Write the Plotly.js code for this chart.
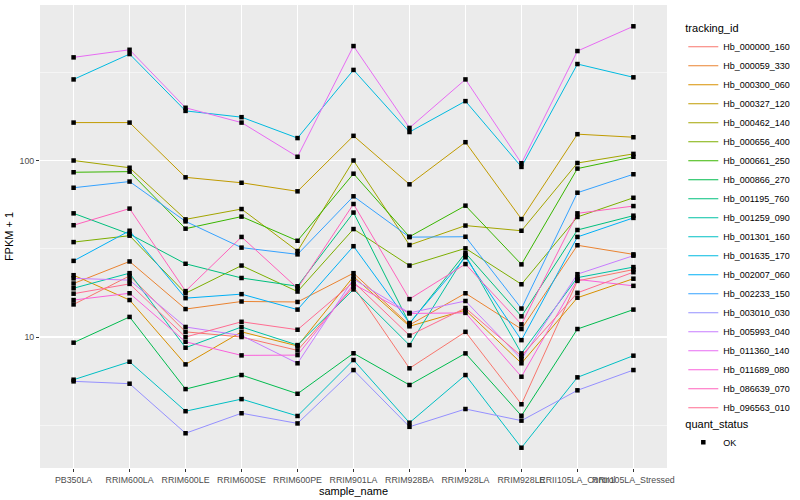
<!DOCTYPE html>
<html>
<head>
<meta charset="utf-8">
<script src="https://cdn.plot.ly/plotly-3.0.1.min.js"></script>
<style>html,body{margin:0;padding:0;background:#fff;} #chart{width:800px;height:500px;}</style>
</head>
<body>
<div id="chart"></div>
<script>
// categories
const sampleNames = ["PB350LA","RRIM600LA","RRIM600LE","RRIM600SE","RRIM600PE","RRIM901LA","RRIM928BA","RRIM928LA","RRIM928LE","RRII105LA_Control","RRII105LA_Stressed"];

// series values (FPKM + 1), one array per tracking_id
const Hb_000000_160 = [15.3, 22.2, 10.7, 10.0, 8.4, 19.3, 6.65, 10.7, 4.16, 20.8, 24.1];
const Hb_000059_330 = [20.1, 26.8, 14.4, 15.9, 15.8, 23.0, 11.7, 17.7, 11.1, 33.1, 29.4];
const Hb_000300_060 = [22.4, 16.2, 7.0, 10.7, 8.9, 22.0, 11.5, 14.2, 7.1, 16.7, 21.4];
const Hb_000327_120 = [164, 164, 80.3, 74.8, 66.9, 138, 73.3, 127, 46.6, 141, 135.5];
const Hb_000462_140 = [100, 91, 46.4, 53.1, 30.7, 100, 33.2, 42.8, 40.0, 96.8, 109];
const Hb_000656_400 = [34.5, 37.5, 17.7, 25.4, 18.1, 40.9, 25.4, 31.8, 19.9, 47.9, 61.5];
const Hb_000661_250 = [85.8, 86.5, 41.1, 48.1, 35.1, 84.2, 37.0, 55.5, 25.8, 90, 105];
const Hb_000866_270 = [9.29, 13.0, 5.07, 6.09, 4.77, 8.09, 5.35, 8.08, 3.58, 11.1, 14.3];
const Hb_001195_760 = [50.2, 38.3, 26.0, 21.6, 19.4, 50.7, 11.9, 29.9, 13.1, 40.4, 48.7];
const Hb_001259_090 = [18.9, 23.0, 8.7, 11.4, 9.0, 18.6, 9.0, 29.1, 8.08, 21.7, 24.9];
const Hb_001301_160 = [5.73, 7.24, 3.8, 4.45, 3.57, 7.41, 3.27, 6.09, 2.36, 5.91, 7.84];
const Hb_001635_170 = [288, 401, 191, 176, 134, 326, 145, 217, 92, 352, 296];
const Hb_002007_060 = [27.0, 40.0, 16.6, 17.5, 14.3, 32.7, 12.0, 28.3, 9.6, 36.9, 47.3];
const Hb_002233_150 = [70.1, 76.0, 45.2, 32.1, 29.4, 62.7, 36.8, 37.0, 14.5, 65.7, 83.6];
const Hb_003010_030 = [5.61, 5.44, 2.85, 3.7, 3.24, 6.5, 3.1, 3.91, 3.36, 4.99, 6.5];
const Hb_005993_040 = [21.5, 21.0, 11.4, 10.2, 7.1, 21.3, 13.7, 16.0, 7.5, 22.7, 28.9];
const Hb_011360_140 = [384, 424, 199, 164, 105, 445, 153, 288, 96.5, 417, 576];
const Hb_011689_080 = [16.2, 17.7, 9.4, 7.87, 7.9, 19.9, 13.6, 13.7, 5.96, 21.2, 19.5];
const Hb_086639_070 = [43.0, 53.4, 18.2, 36.9, 18.9, 56.7, 16.4, 25.9, 11.8, 50.2, 55.2];
const Hb_096563_010 = [17.6, 20.0, 10.0, 12.2, 11.0, 20.5, 10.2, 14.6, 7.8, 17.8, 23.3];

const trackingIds = ["Hb_000000_160","Hb_000059_330","Hb_000300_060","Hb_000327_120","Hb_000462_140","Hb_000656_400","Hb_000661_250","Hb_000866_270","Hb_001195_760","Hb_001259_090","Hb_001301_160","Hb_001635_170","Hb_002007_060","Hb_002233_150","Hb_003010_030","Hb_005993_040","Hb_011360_140","Hb_011689_080","Hb_086639_070","Hb_096563_010"];
const seriesValues = [Hb_000000_160,Hb_000059_330,Hb_000300_060,Hb_000327_120,Hb_000462_140,Hb_000656_400,Hb_000661_250,Hb_000866_270,Hb_001195_760,Hb_001259_090,Hb_001301_160,Hb_001635_170,Hb_002007_060,Hb_002233_150,Hb_003010_030,Hb_005993_040,Hb_011360_140,Hb_011689_080,Hb_086639_070,Hb_096563_010];
const quantStatus = ["OK"];

// ggplot hue palette (20)
const palette = ["#F8766D","#EA8331","#D89000","#C09B00","#A3A500","#7CAE00","#39B600","#00BB4E","#00BF7D","#00C1A3","#00BFC4","#00BAE0","#00B0F6","#35A2FF","#9590FF","#C77CFF","#E76BF3","#FA62DB","#FF62BC","#FF6C91"];

const FONT = "Liberation Sans, Arial, sans-serif";
const traces = [];
trackingIds.forEach((id, i) => {
  traces.push({
    type: "scatter", mode: "lines", name: id,
    x: sampleNames, y: seriesValues[i],
    line: {color: palette[i], width: 1},
    legend: "legend", hoverinfo: "x+y+name"
  });
});
trackingIds.forEach((id, i) => {
  traces.push({
    type: "scatter", mode: "markers", name: quantStatus[0],
    x: sampleNames, y: seriesValues[i],
    marker: {color: "#000", size: 4.5, symbol: "square"},
    legend: "legend2", legendgroup: "ok", showlegend: i === 0, hoverinfo: "skip"
  });
});

const layout = {
  width: 800, height: 500,
  margin: {l: 40, r: 116, t: 5, b: 32},
  paper_bgcolor: "#fff", plot_bgcolor: "#EBEBEB",
  font: {family: FONT, size: 9, color: "#4D4D4D"},
  showlegend: true,
  xaxis: {
    type: "category", range: [-0.6, 10.6], tickangle: 0,
    showgrid: true, gridcolor: "#fff", gridwidth: 1.1, zeroline: false, showline: false,
    ticks: "outside", ticklen: 3, tickwidth: 1, tickcolor: "#333",
    tickfont: {family: FONT, size: 8.8, color: "#4D4D4D"},
    title: {text: "sample_name", font: {family: FONT, size: 11, color: "#000"}, standoff: 0}
  },
  yaxis: {
    type: "log", range: [0.258, 2.881],
    tickmode: "array", tickvals: [10, 100], ticktext: ["10", "100"],
    showgrid: true, gridcolor: "#fff", gridwidth: 1.1, zeroline: false, showline: false,
    ticks: "outside", ticklen: 3, tickwidth: 1, tickcolor: "#333",
    tickfont: {family: FONT, size: 8.8, color: "#4D4D4D"},
    minor: {tickmode: "array", tickvals: [3.1623, 31.623, 316.23], showgrid: true, gridcolor: "#fff", gridwidth: 0.5, ticks: ""},
    title: {text: "FPKM + 1", font: {family: FONT, size: 11, color: "#000"}, standoff: 3}
  },
  legend: {
    x: 1.026, xanchor: "left", y: 0.972, yanchor: "top",
    bgcolor: "rgba(0,0,0,0)", itemwidth: 30,
    font: {family: FONT, size: 9, color: "#000"},
    title: {text: "tracking_id", font: {family: FONT, size: 11, color: "#000"}},
    tracegroupgap: 0
  },
  legend2: {
    x: 1.026, xanchor: "left", y: 0.118, yanchor: "top",
    bgcolor: "rgba(0,0,0,0)", itemwidth: 30,
    font: {family: FONT, size: 9, color: "#000"},
    title: {text: "quant_status", font: {family: FONT, size: 11, color: "#000"}}
  }
};

Plotly.newPlot("chart", traces, layout, {displayModeBar: false, staticPlot: true});
</script>
</body>
</html>
